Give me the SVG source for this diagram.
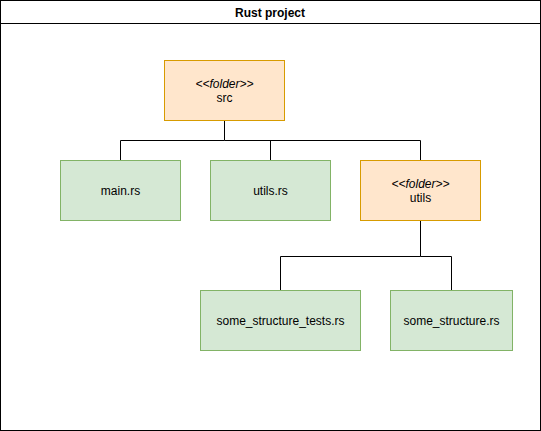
<svg xmlns="http://www.w3.org/2000/svg" width="541" height="431" viewBox="0 0 541 431">
<style>
text{font-family:"Liberation Sans",Arial,sans-serif;font-size:12px;fill:#000;text-anchor:middle}
.folder{fill:#ffe6cc;stroke:#d79b00}
.file{fill:#d5e8d4;stroke:#82b366}
.edge{fill:none;stroke:#000;stroke-width:1}
.it{font-style:italic}
</style>
<rect width="541" height="431" fill="#fff"/>
<g id="container">
<rect x="0.5" y="0.5" width="540" height="430" fill="#fff" stroke="#000"/>
<line x1="0.5" y1="23.5" x2="540.5" y2="23.5" stroke="#000"/>
<text x="270" y="17" font-weight="bold">Rust project</text>
</g>
<g id="connectors">
<path class="edge" d="M224.5 120V140.5H120.5V160M224.5 140.5H420.5V160M270.5 140.5V160"/>
<path class="edge" d="M420.5 220V256.5H280.5V290M420.5 256.5H451.5V290"/>
</g>
<g id="src">
<rect class="folder" x="164.5" y="60.5" width="120" height="60"/>
<text class="it" x="224.5" y="88">&lt;&lt;folder&gt;&gt;</text>
<text x="224.5" y="102">src</text>
</g>
<g id="main">
<rect class="file" x="60.5" y="160.5" width="120" height="60"/>
<text x="120.5" y="195">main.rs</text>
</g>
<g id="utils_rs">
<rect class="file" x="210.5" y="160.5" width="120" height="60"/>
<text x="270.5" y="195">utils.rs</text>
</g>
<g id="utils">
<rect class="folder" x="360.5" y="160.5" width="120" height="60"/>
<text class="it" x="420.5" y="188">&lt;&lt;folder&gt;&gt;</text>
<text x="420.5" y="202">utils</text>
</g>
<g id="some_structure_tests">
<rect class="file" x="200.5" y="290.5" width="160" height="60"/>
<text x="280.5" y="325">some_structure_tests.rs</text>
</g>
<g id="some_structure">
<rect class="file" x="390.5" y="290.5" width="122" height="60"/>
<text x="451.5" y="325">some_structure.rs</text>
</g>
</svg>
